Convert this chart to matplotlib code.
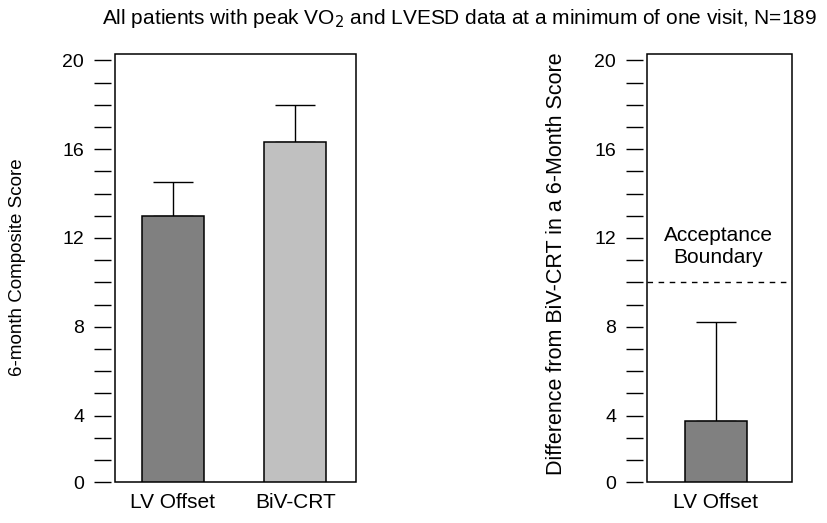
import matplotlib
matplotlib.use("Agg")
import matplotlib.pyplot as plt
from matplotlib.patches import Rectangle
from matplotlib.ticker import FixedLocator, FixedFormatter

plt.rcParams['font.family'] = ['Liberation Sans', 'DejaVu Sans']

# Data
left_categories = ["LV Offset", "BiV-CRT"]
left_values = [13.0, 16.3]
left_err_upper = [1.5, 1.7]
left_colors = ["#808080", "#c0c0c0"]

right_categories = ["LV Offset"]
right_values = [3.75]
right_err_upper = [4.45]
right_colors = ["#808080"]

acceptance_boundary = 10

# Axis label scheme as drawn in the original (the "0" label sits 3 steps below "4")
ytick_major_pos = [1, 4, 8, 12, 16, 20]
ytick_major_lab = ["0", "4", "8", "12", "16", "20"]
ytick_minor_pos = [p for p in range(2, 20) if p not in ytick_major_pos]

title = "All patients with peak VO$_2$ and LVESD data at a minimum of one visit, N=189"
left_ylabel = "6-month Composite Score"
right_ylabel = "Difference from BiV-CRT in a 6-Month Score"

W, H = 827, 523
fig = plt.figure(figsize=(W / 100, H / 100), dpi=100)

bot_px, top_px = 482.3, 54.3
ax1 = fig.add_axes([115 / W, (H - bot_px) / H, 241 / W, (bot_px - top_px) / H])
ax2 = fig.add_axes([647 / W, (H - bot_px) / H, 145 / W, (bot_px - top_px) / H])

bar_w = 0.506
ylim = (1, 20.27)


def style(ax):
    for s in ax.spines.values():
        s.set_visible(False)
    ax.spines['left'].set_visible(True)
    ax.spines['left'].set_color('none')
    ax.spines['left'].set_position(('outward', 3.2))
    ax.add_patch(Rectangle((0, 0), 1, 1, transform=ax.transAxes, fill=False,
                           edgecolor='black', linewidth=1.1, zorder=5, clip_on=False))
    ax.set_ylim(*ylim)
    ax.yaxis.set_major_locator(FixedLocator(ytick_major_pos))
    ax.yaxis.set_major_formatter(FixedFormatter(ytick_major_lab))
    ax.yaxis.set_minor_locator(FixedLocator(ytick_minor_pos))
    ax.tick_params(axis='y', which='both', direction='out', length=12.5, width=1.0,
                   labelsize=14, pad=6.5)
    ax.tick_params(axis='x', length=0, labelsize=15, pad=8)


# Left panel
x1 = list(range(len(left_categories)))
ax1.bar(x1, left_values, width=bar_w, color=left_colors, edgecolor='black',
        linewidth=1.1, zorder=2)
ax1.errorbar(x1, left_values, yerr=[[0] * len(x1), left_err_upper], fmt='none',
             ecolor='black', elinewidth=1.0, capsize=14.5, capthick=1.0, zorder=1)
ax1.set_xlim(-0.473, 1.494)
ax1.set_xticks(x1)
ax1.set_xticklabels(left_categories)
style(ax1)

# Right panel
x2 = list(range(len(right_categories)))
ax2.bar(x2, right_values, width=bar_w, color=right_colors, edgecolor='black',
        linewidth=1.1, zorder=2)
ax2.errorbar(x2, right_values, yerr=[[0] * len(x2), right_err_upper], fmt='none',
             ecolor='black', elinewidth=1.0, capsize=14.5, capthick=1.0, zorder=1)
ax2.axhline(acceptance_boundary, color='black', linestyle=(0, (4, 4)), linewidth=1.0)
ax2.text(0.02, 11.6, "Acceptance\nBoundary", ha='center', va='center', fontsize=15,
         linespacing=1.2)
ax2.set_xlim(-0.559, 0.624)
ax2.set_xticks(x2)
ax2.set_xticklabels(right_categories)
style(ax2)

fig.text(18 / W, 1 - 267.5 / H, left_ylabel, rotation=90, ha='center', va='center', fontsize=13.5)
fig.text(556 / W, 1 - 264 / H, right_ylabel, rotation=90, ha='center', va='center', fontsize=15.5)
fig.text(817 / W, 1 - 18 / H, title, ha='right', va='center', fontsize=15)

fig.savefig("out.png", dpi=100)
